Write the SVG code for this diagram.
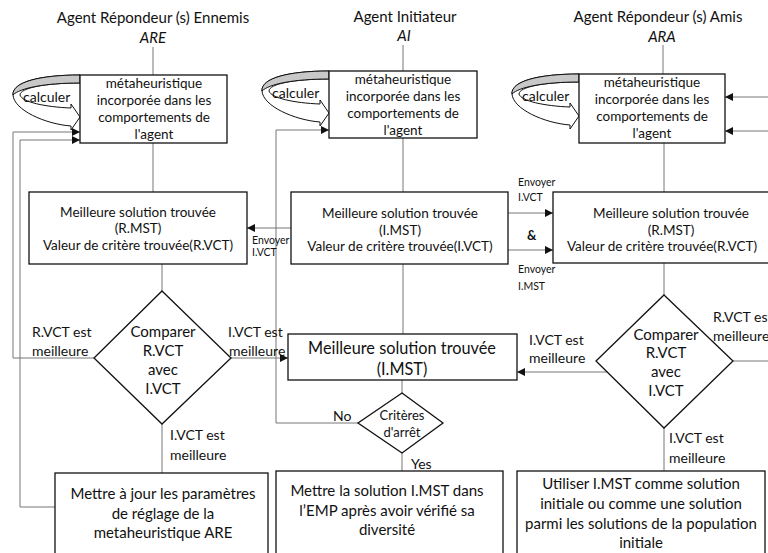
<svg xmlns="http://www.w3.org/2000/svg" width="768" height="553" viewBox="0 0 768 553">
<defs>
<style>
text{font-family:Lato,"Liberation Sans",sans-serif;fill:#111}
.t{font-size:15px;text-anchor:middle}
.ti{font-size:15px;text-anchor:middle;font-style:italic}
.b{font-size:13.5px;text-anchor:middle}
.m{font-size:13.5px;text-anchor:middle}
.d{font-size:15px;text-anchor:middle}
.l{font-size:14px}
.s{font-size:10.5px}
.box{fill:#fff;stroke:#111;stroke-width:1.3}
.c{fill:none;stroke:#777;stroke-width:1}
.band{fill:#fff;stroke:#111;stroke-width:1}
.back{fill:#c8c8c8;stroke:#111;stroke-width:1}
</style>
<marker id="ah" viewBox="0 0 10 10" refX="10" refY="5" markerWidth="9" markerHeight="8" markerUnits="userSpaceOnUse" orient="auto">
<path d="M0,0 L10,5 L0,10 Z" fill="#111"/>
</marker>
<g id="loop">
<path class="band" d="M80,75 C40,75 12,82 13,95 C14,110 45,124 71,126 L71,130 L80,117 L71,104 L71,108 C45,107 22,102 20,95 C20,88 45,83 80,83 Z"/>
<path class="back" d="M80,75 C40,75 12,82 13,95 C20,88 45,83 80,83 Z"/>
<text class="l" x="23" y="102">calculer</text>
</g>
</defs>

<g id="connectors">
<path class="c" d="M153,47 V75"/>
<path class="c" d="M153,143 V192"/>
<path class="c" d="M162,264 V291"/>
<path class="c" d="M94,358 H13 V132 H80" marker-end="url(#ah)"/>
<path class="c" d="M162,424 V473"/>
<path class="c" d="M55,507 H20 V140 H80" marker-end="url(#ah)"/>
<path class="c" d="M231,358 H288" marker-end="url(#ah)"/>
<path class="c" d="M403,45 V71"/>
<path class="c" d="M403,138 V192"/>
<path class="c" d="M403,264 V334"/>
<path class="c" d="M291,228 H247" marker-end="url(#ah)"/>
<path class="c" d="M508,213 H553" marker-end="url(#ah)"/>
<path class="c" d="M508,250 H553" marker-end="url(#ah)"/>
<path class="c" d="M402,380 V393"/>
<path class="c" d="M358,423 H276 V130 H329" marker-end="url(#ah)"/>
<path class="c" d="M402,453 V471"/>
<path class="c" d="M663,45 V74"/>
<path class="c" d="M664,143 V192"/>
<path class="c" d="M664,263 V295"/>
<path class="c" d="M607,372 H517" marker-end="url(#ah)"/>
<path class="c" d="M733,361 H768"/>
<path class="c" d="M768,97 H725" marker-end="url(#ah)"/>
<path class="c" d="M768,131 H725" marker-end="url(#ah)"/>
<path class="c" d="M664,428 V471"/>
</g>

<g id="titles">
<text class="t" x="153" y="23">Agent Répondeur (s) Ennemis</text>
<text class="ti" x="153" y="43">ARE</text>
<text class="t" x="405" y="22">Agent Initiateur</text>
<text class="ti" x="404" y="41">AI</text>
<text class="t" x="658" y="22">Agent Répondeur (s) Amis</text>
<text class="ti" x="662" y="42">ARA</text>
</g>

<g id="loop-are"><use href="#loop"/></g>
<g id="loop-ai"><use href="#loop" transform="translate(249,-4)"/></g>
<g id="loop-ara"><use href="#loop" transform="translate(499,-1)"/></g>

<g id="are-meta">
<rect class="box" x="80" y="75" width="147" height="68"/>
<text class="b" x="154" y="88">métaheuristique</text>
<text class="b" x="154" y="105">incorporée dans les</text>
<text class="b" x="154" y="122">comportements de</text>
<text class="b" x="154" y="139">l'agent</text>
</g>
<g id="ai-meta">
<rect class="box" x="329" y="71" width="148" height="67"/>
<text class="b" x="403" y="84">métaheuristique</text>
<text class="b" x="403" y="101">incorporée dans les</text>
<text class="b" x="403" y="118">comportements de</text>
<text class="b" x="403" y="135">l'agent</text>
</g>
<g id="ara-meta">
<rect class="box" x="579" y="74" width="146" height="69"/>
<text class="b" x="652" y="87">métaheuristique</text>
<text class="b" x="652" y="104">incorporée dans les</text>
<text class="b" x="652" y="121">comportements de</text>
<text class="b" x="652" y="138">l'agent</text>
</g>

<g id="are-best">
<rect class="box" x="29" y="192" width="218" height="72"/>
<text class="m" x="138" y="217">Meilleure solution trouvée</text>
<text class="m" x="138" y="233">(R.MST)</text>
<text class="m" x="138" y="250">Valeur de critère trouvée(R.VCT)</text>
</g>
<g id="ai-best">
<rect class="box" x="291" y="192" width="217" height="72"/>
<text class="m" x="400" y="218">Meilleure solution trouvée</text>
<text class="m" x="400" y="235">(I.MST)</text>
<text class="m" x="400" y="251">Valeur de critère trouvée(I.VCT)</text>
</g>
<g id="ara-best">
<rect class="box" x="553" y="192" width="240" height="71"/>
<text class="m" x="671" y="218">Meilleure solution trouvée</text>
<text class="m" x="671" y="235">(R.MST)</text>
<text class="m" x="662" y="251">Valeur de critère trouvée(R.VCT)</text>
</g>

<g id="send-labels">
<text class="s" x="252" y="244">Envoyer</text>
<text class="s" x="252" y="256">I.VCT</text>
<text class="s" x="518" y="186">Envoyer</text>
<text class="s" x="518" y="201">I.VCT</text>
<text x="527" y="240" style="font-size:13px;font-weight:bold">&amp;</text>
<text class="s" x="518" y="273">Envoyer</text>
<text class="s" x="518" y="290">I.MST</text>
</g>

<g id="are-compare">
<polygon class="box" points="162,291 231,358 162,424 94,358"/>
<text class="d" x="163" y="337">Comparer</text>
<text class="d" x="163" y="356">R.VCT</text>
<text class="d" x="163" y="375">avec</text>
<text class="d" x="163" y="394">I.VCT</text>
</g>
<g id="ara-compare">
<polygon class="box" points="664,295 733,361 664,428 596,361"/>
<text class="d" x="666" y="340">Comparer</text>
<text class="d" x="666" y="358">R.VCT</text>
<text class="d" x="666" y="377">avec</text>
<text class="d" x="666" y="396">I.VCT</text>
</g>

<g id="branch-labels">
<text class="l" x="32" y="337">R.VCT est</text>
<text class="l" x="32" y="356">meilleure</text>
<text class="l" x="228" y="337">I.VCT est</text>
<text class="l" x="229" y="356">meilleure</text>
<text class="l" x="170" y="440">I.VCT est</text>
<text class="l" x="170" y="460">meilleure</text>
<text class="l" x="529" y="345">I.VCT est</text>
<text class="l" x="529" y="363">meilleure</text>
<text class="l" x="713" y="322">R.VCT est</text>
<text class="l" x="713" y="341">meilleure</text>
<text class="l" x="669" y="443">I.VCT est</text>
<text class="l" x="669" y="463">meilleure</text>
<text class="l" x="333" y="421">No</text>
<text class="l" x="411" y="469">Yes</text>
</g>

<g id="ai-imst">
<rect class="box" x="288" y="334" width="229" height="46"/>
<text x="402" y="354" style="font-size:16.3px;text-anchor:middle">Meilleure solution trouvée</text>
<text x="402" y="375" style="font-size:16.3px;text-anchor:middle">(I.MST)</text>
</g>

<g id="ai-stop">
<polygon class="box" points="402,393 443,423 402,453 358,423"/>
<text x="402" y="420" style="font-size:13px;text-anchor:middle">Critères</text>
<text x="402" y="437" style="font-size:13px;text-anchor:middle">d'arrêt</text>
</g>

<g id="are-update">
<rect class="box" x="55" y="473" width="213" height="90"/>
<text class="t" x="163" y="499">Mettre à jour les paramètres</text>
<text class="t" x="163" y="519">de réglage  de la</text>
<text class="t" x="163" y="538">metaheuristique ARE</text>
</g>
<g id="ai-emp">
<rect class="box" x="276" y="471" width="227" height="92"/>
<text class="t" x="387" y="496">Mettre la solution I.MST dans</text>
<text class="t" x="387" y="516">l’EMP après avoir vérifié sa</text>
<text class="t" x="387" y="535">diversité</text>
</g>
<g id="ara-use">
<rect class="box" x="517" y="471" width="248" height="92"/>
<text class="t" x="641" y="489">Utiliser I.MST comme solution</text>
<text class="t" x="641" y="509">initiale ou comme une solution</text>
<text class="t" x="641" y="529">parmi les solutions de la population</text>
<text class="t" x="641" y="548">initiale</text>
</g>
</svg>
